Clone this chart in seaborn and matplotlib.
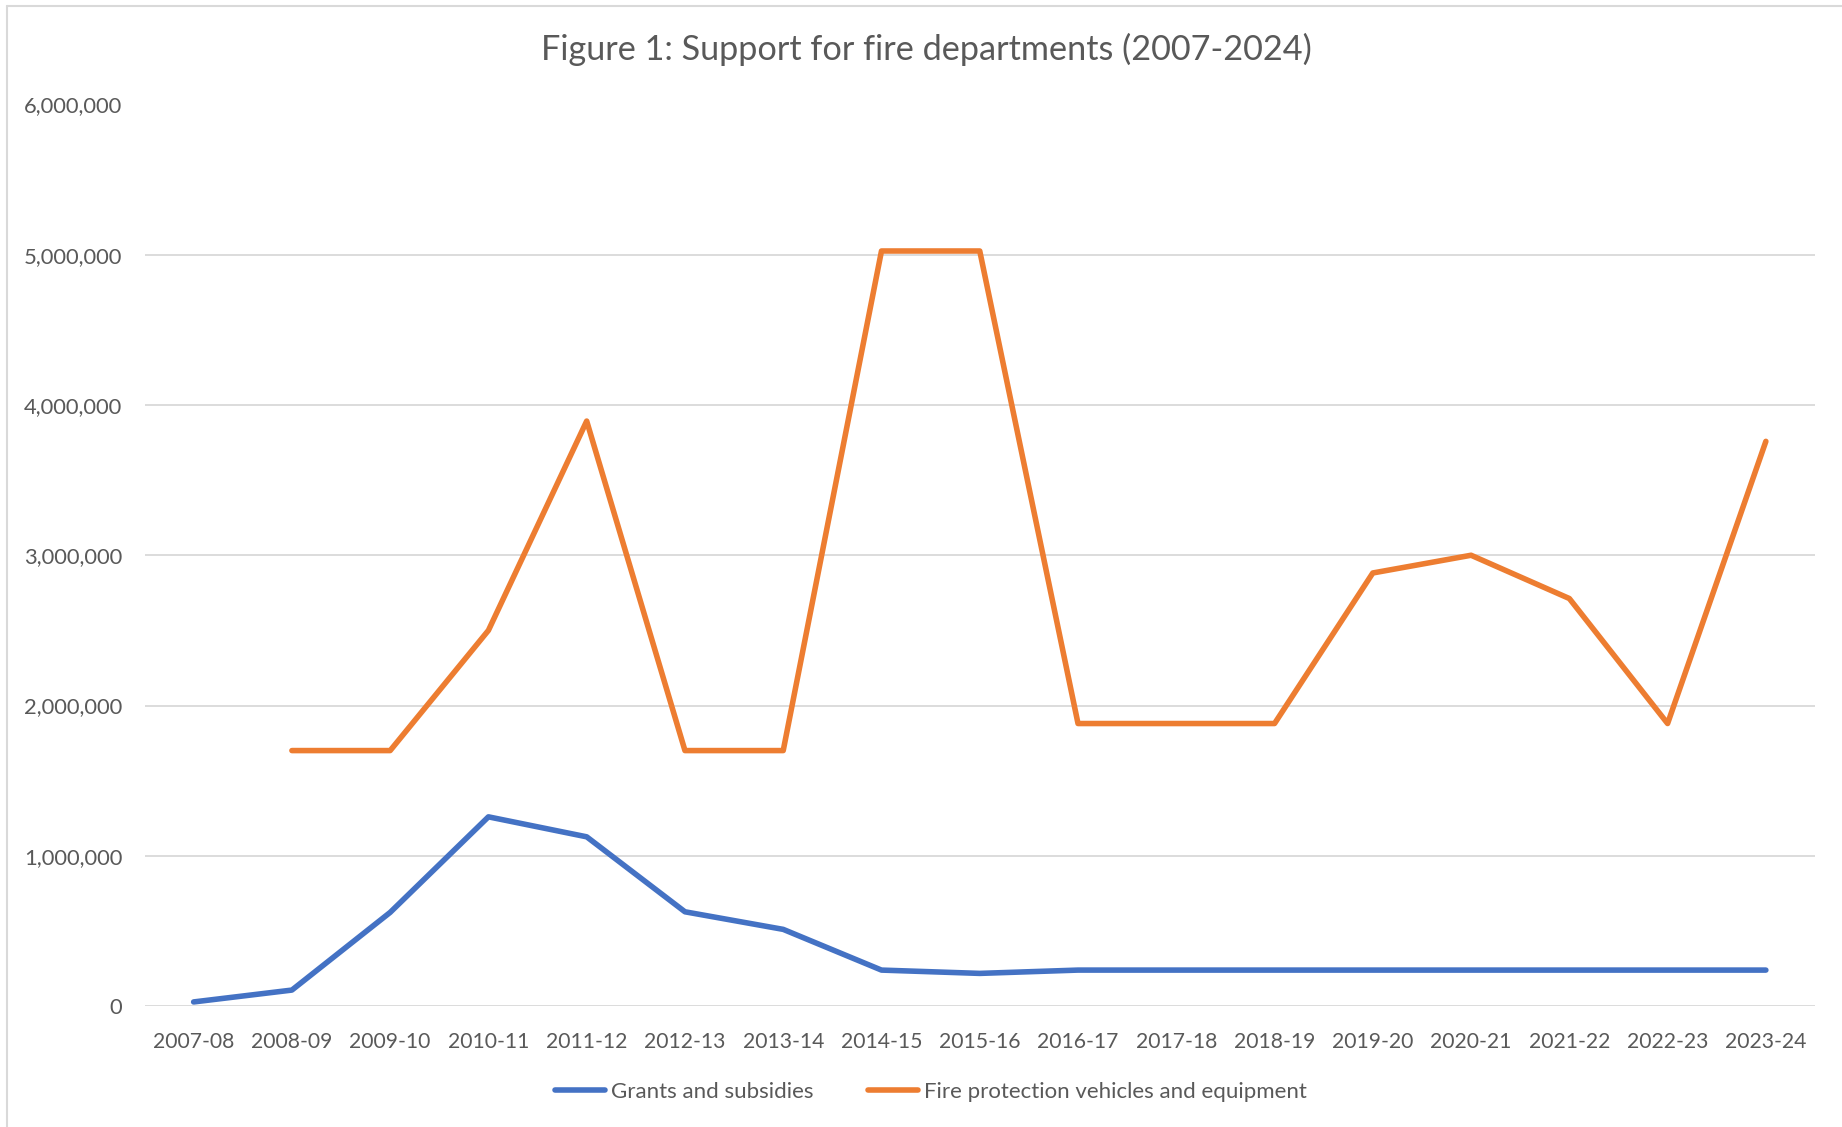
import numpy as np
import pandas as pd
import matplotlib
matplotlib.use("Agg")
import matplotlib.pyplot as plt
from matplotlib.lines import Line2D
from matplotlib.ticker import FuncFormatter, MultipleLocator
import seaborn as sns

# ---- data ----
years = ['2007-08', '2008-09', '2009-10', '2010-11', '2011-12', '2012-13',
         '2013-14', '2014-15', '2015-16', '2016-17', '2017-18', '2018-19',
         '2019-20', '2020-21', '2021-22', '2022-23', '2023-24']
grants = [27000, 106000, 623000, 1259000, 1126000, 627000, 510000, 239000,
          217000, 239000, 239000, 239000, 239000, 239000, 239000, 239000, 239000]
vehicles = [np.nan, 1700000, 1700000, 2500000, 3893000, 1700000, 1700000,
            5025000, 5025000, 1880000, 1880000, 1880000, 2882000, 3000000,
            2712000, 1880000, 3758000]
series_names = ['Grants and subsidies', 'Fire protection vehicles and equipment']
title = 'Figure 1: Support for fire departments (2007-2024)'

colors = ['#4472C4', '#ED7D31']
text_color = '#595959'
grid_color = '#D9D9D9'

sns.set_theme(style='white')
plt.rcParams['font.family'] = ['Lato', 'DejaVu Sans']

idx = np.arange(len(years))
df = pd.concat([
    pd.DataFrame({'x': idx, 'value': grants, 'series': series_names[0]}),
    pd.DataFrame({'x': idx, 'value': vehicles, 'series': series_names[1]}),
], ignore_index=True).dropna()

W, H = 1842, 1127
fig = plt.figure(figsize=(W / 100, H / 100), dpi=100)
fig.patch.set_facecolor('white')
ax = fig.add_axes([144.5 / W, 1 - 1006 / H, (1815 - 144.5) / W, (1006 - 104.5) / H])

sns.lineplot(data=df, x='x', y='value', hue='series', hue_order=series_names,
             palette=colors, linewidth=4.0, estimator=None, legend=False, ax=ax)
for ln in ax.lines:
    ln.set_solid_capstyle('round')
    ln.set_solid_joinstyle('round')

ax.set_xlim(-0.5, len(years) - 0.5)
ax.set_ylim(0, 6000000)
ax.yaxis.set_major_locator(MultipleLocator(1000000))
ax.yaxis.set_major_formatter(FuncFormatter(lambda v, _: f'{v:,.0f}'))
ax.set_xticks(idx)
ax.set_xticklabels(years)
ax.set_xlabel('')
ax.set_ylabel('')
ax.grid(axis='y', color=grid_color, linewidth=1.3)
ax.grid(axis='x', visible=False)
ax.set_axisbelow(True)
for s in ax.spines.values():
    s.set_visible(False)
ax.tick_params(axis='both', length=0, labelcolor=text_color)
ax.tick_params(axis='x', pad=18.5, labelsize=15.2)
ax.tick_params(axis='y', pad=16, labelsize=15.8)

fig.text(0.5027, 1 - 49 / H, title, ha='center', va='center', fontsize=24.7,
         color=text_color)

leg = fig.legend(handles=ax.lines[:2], labels=series_names, loc='center',
                 bbox_to_anchor=(931 / W, 1 - 1092 / H), ncol=2, frameon=False,
                 fontsize=16, handlelength=2.25, handletextpad=0.27,
                 columnspacing=2.43, labelcolor=text_color)

# chart border (left and top visible)
fig.add_artist(Line2D([7 / W, 7 / W], [0, 1 - 6 / H], transform=fig.transFigure,
                      color=grid_color, linewidth=1.5))
fig.add_artist(Line2D([7 / W, 1], [1 - 6 / H, 1 - 6 / H], transform=fig.transFigure,
                      color=grid_color, linewidth=1.5))

fig.savefig('out.png', dpi=100, facecolor='white')
